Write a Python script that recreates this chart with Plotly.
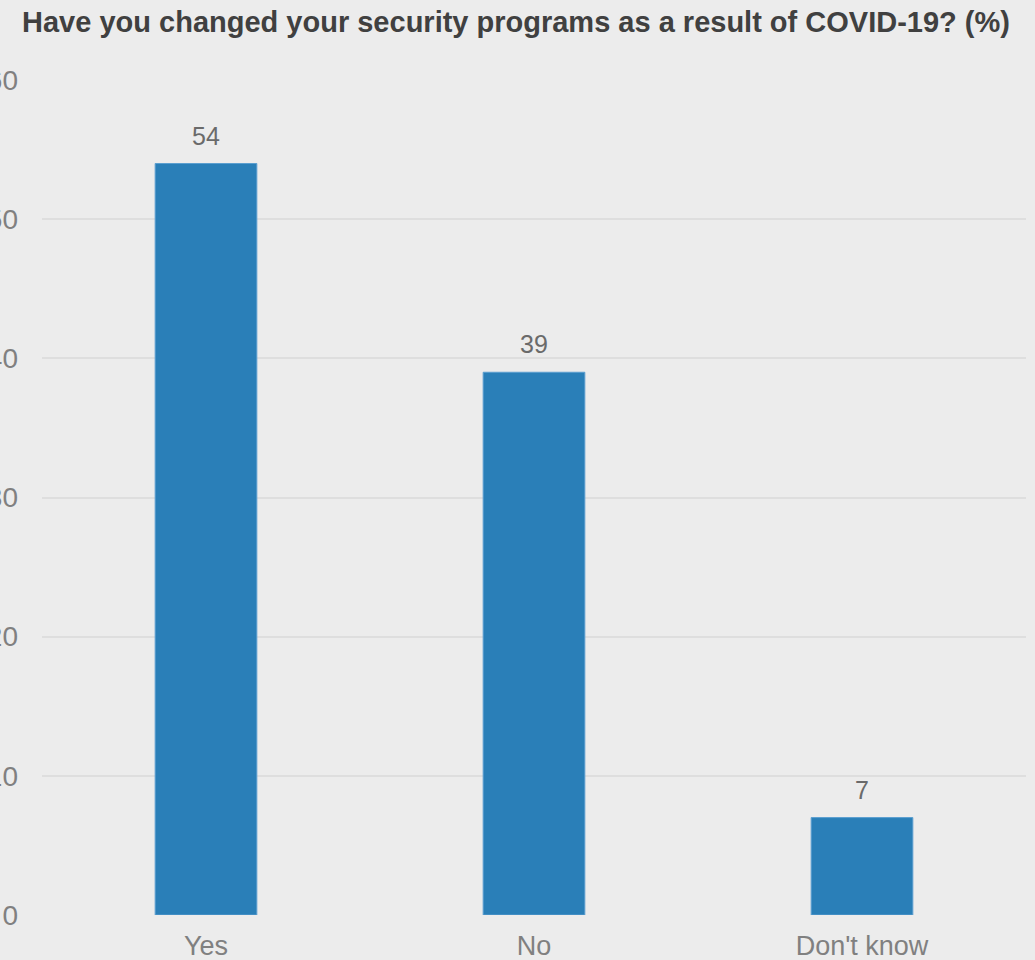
import plotly.graph_objects as go

categories = ["Yes", "No", "Don't know"]
values = [54, 39, 7]
y_ticks = [0, 10, 20, 30, 40, 50, 60]
title_text = "Have you changed your security programs as a result of COVID-19? (%)"

FONT = "Liberation Sans, Arial"

fig = go.Figure(
    go.Bar(
        x=categories,
        y=values,
        marker=dict(color="#2a7fb8", line=dict(color="#5b9fd0", width=1)),
        cliponaxis=False,
        hoverinfo="skip",
    )
)

for c, v in zip(categories, values):
    fig.add_annotation(
        x=c, y=v, xref="x", yref="y",
        text=str(v), showarrow=False,
        yanchor="bottom", yshift=12,
        font=dict(family=FONT, size=25, color="#6a6a6a"),
    )

fig.update_layout(
    width=1035,
    height=960,
    paper_bgcolor="#ececec",
    plot_bgcolor="#ececec",
    margin=dict(l=42, r=9, t=80, b=45, autoexpand=False),
    bargap=0.69,
    showlegend=False,
    title=dict(
        text="<b>" + title_text + "</b>",
        font=dict(family=FONT, size=29, color="#404040"),
        xref="container",
        x=516 / 1035,
        xanchor="center",
        yref="container",
        y=1 - 22 / 960,
        yanchor="middle",
    ),
    xaxis=dict(
        showgrid=False,
        showline=False,
        zeroline=False,
        tickfont=dict(family=FONT, size=27, color="#808080"),
        ticks="",
        ticklabelstandoff=12,
        automargin=False,
    ),
    yaxis=dict(
        range=[0, 60],
        tickvals=y_ticks,
        showgrid=True,
        gridcolor="#dedede",
        gridwidth=2,
        zeroline=False,
        showline=False,
        tickfont=dict(family=FONT, size=28, color="#808080"),
        ticks="",
        ticklabelstandoff=23,
        automargin=False,
    ),
)

fig.write_html(
    "out.html",
    config={"displayModeBar": False},
    post_script="document.body.style.margin='0';document.body.style.overflow='hidden';",
)
